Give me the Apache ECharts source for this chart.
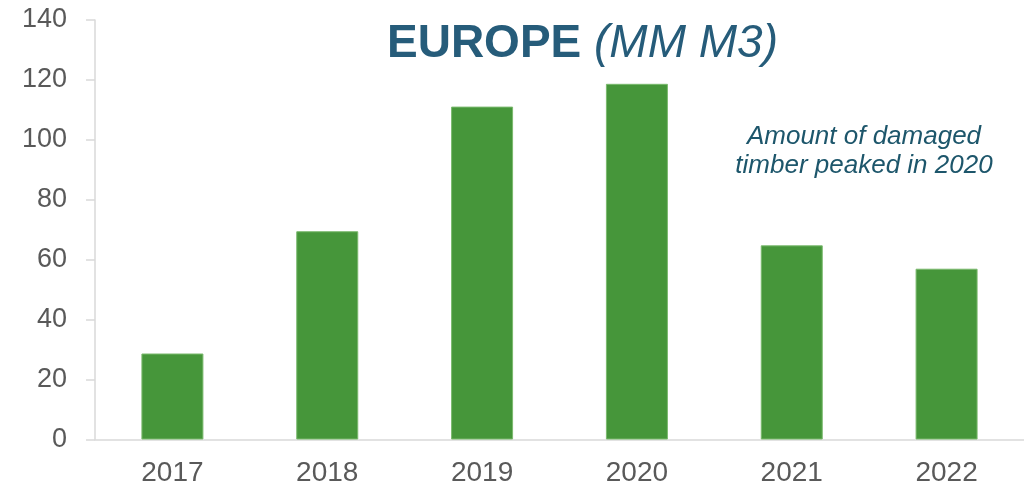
<!DOCTYPE html>
<html>
<head>
<meta charset="utf-8">
<script src="https://cdn.jsdelivr.net/npm/echarts@6/dist/echarts.min.js"></script>
<style>
html,body{margin:0;padding:0;background:#fff;}
#chart{width:1024px;height:488px;}
</style>
</head>
<body>
<div id="chart"></div>
<script>
const years = ['2017', '2018', '2019', '2020', '2021', '2022'];
const damagedTimber = [28.7, 69.5, 111.1, 118.7, 64.8, 57.0];
const yTicks = [0, 20, 40, 60, 80, 100, 120, 140];
const titleMain = 'EUROPE';
const titleUnit = '(MM M3)';
const noteLines = ['Amount of damaged', 'timber peaked in 2020'];

const FONT = '"Liberation Sans", Arial, sans-serif';
const chart = echarts.init(document.getElementById('chart'));
chart.setOption({
  animation: false,
  backgroundColor: '#ffffff',
  title: {
    text: '{a|' + titleMain + '}{b| ' + titleUnit + '}',
    left: 382,
    top: 16,
    textStyle: {
      fontWeight: 'normal',
      rich: {
        a: { fontFamily: FONT, fontSize: 46, fontWeight: 'bold', color: '#265c7a' },
        b: { fontFamily: FONT, fontSize: 46, fontWeight: 'normal', fontStyle: 'italic', color: '#265c7a' }
      }
    }
  },
  graphic: [{
    type: 'text',
    x: 864,
    y: 123,
    style: {
      text: noteLines.join('\n'),
      fill: '#1d566b',
      font: 'italic 26px ' + FONT,
      align: 'center',
      lineHeight: 28.5
    }
  }],
  grid: { left: 95, right: -2, top: 20, bottom: 48.5, containLabel: false },
  xAxis: {
    type: 'category',
    data: years,
    axisLine: { show: true, lineStyle: { color: '#d9d9d9', width: 1.5 } },
    axisTick: { show: false },
    axisLabel: { color: '#595959', fontSize: 28, fontFamily: FONT, margin: 20 }
  },
  yAxis: {
    type: 'value',
    min: yTicks[0],
    max: yTicks[yTicks.length - 1],
    interval: 20,
    axisLine: { show: true, lineStyle: { color: '#d9d9d9', width: 1.5 } },
    axisTick: { show: true, length: 9, lineStyle: { color: '#d9d9d9', width: 1.5 } },
    splitLine: { show: false },
    axisLabel: { color: '#595959', fontSize: 27, fontFamily: FONT, margin: 28 }
  },
  series: [{
    type: 'bar',
    data: damagedTimber,
    barWidth: 62,
    itemStyle: { color: '#46963a', borderColor: '#7ab96d', borderWidth: 1 }
  }]
});
</script>
</body>
</html>
